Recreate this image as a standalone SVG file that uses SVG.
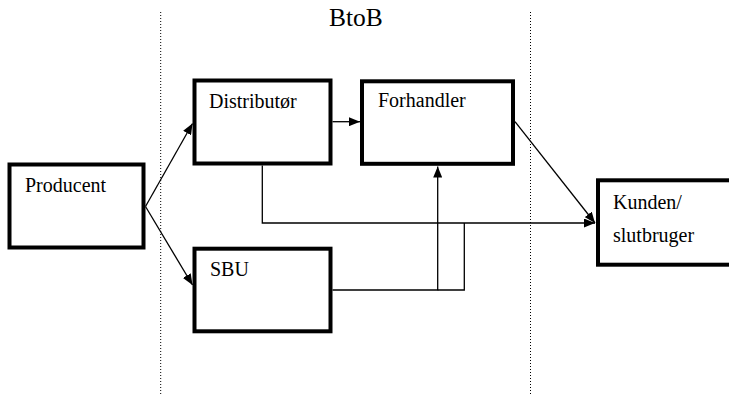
<svg xmlns="http://www.w3.org/2000/svg" width="729" height="394" viewBox="0 0 729 394">
<style>
.box{fill:#fff;stroke:#000;stroke-width:4}
.lbl{font-size:20px;fill:#000}
.title{font-size:25.5px;fill:#000}
.con{fill:none;stroke:#000;stroke-width:1.3}
.dot{fill:none;stroke:#000;stroke-width:1;stroke-dasharray:1 2}
</style>
<defs>
<marker id="arr" viewBox="0 0 11 9" refX="11" refY="4.5" markerWidth="11" markerHeight="9" markerUnits="userSpaceOnUse" orient="auto">
<path d="M0,0 L11,4.5 L0,9 Z" fill="#000"/>
</marker>
</defs>
<rect width="729" height="394" fill="#fff"/>
<g font-family="'Liberation Serif', 'DejaVu Serif', serif">
<g id="zones">
<line class="dot" x1="160.7" y1="12" x2="160.7" y2="394"/>
<line class="dot" x1="530.5" y1="12" x2="530.5" y2="394"/>
<text class="title" x="329" y="26">BtoB</text>
</g>
<g id="producent">
<rect class="box" x="9.5" y="164.5" width="134" height="83"/>
<text class="lbl" x="25" y="191.7">Producent</text>
</g>
<g id="distributor">
<rect class="box" x="194.5" y="80.5" width="136" height="83"/>
<text class="lbl" x="209" y="108.3">Distributør</text>
</g>
<g id="forhandler">
<rect class="box" x="362" y="81.3" width="151" height="82.5"/>
<text class="lbl" x="378" y="107.3">Forhandler</text>
</g>
<g id="sbu">
<rect class="box" x="194.5" y="248.7" width="136" height="82.6"/>
<text class="lbl" x="210" y="275.7">SBU</text>
</g>
<g id="kunden">
<rect class="box" x="598" y="180.3" width="200" height="84.4"/>
<text class="lbl" x="613" y="208.5">Kunden/</text>
<text class="lbl" x="613" y="242">slutbruger</text>
</g>
<g id="connectors">
<line class="con" x1="145.5" y1="206.5" x2="192.5" y2="123.5" marker-end="url(#arr)"/>
<line class="con" x1="145.5" y1="206.5" x2="192.5" y2="285" marker-end="url(#arr)"/>
<line class="con" x1="332.5" y1="121.7" x2="360" y2="121.7" marker-end="url(#arr)"/>
<line class="con" x1="515" y1="121.7" x2="595" y2="223" marker-end="url(#arr)"/>
<path class="con" d="M262.3,165.5 V223 H595" marker-end="url(#arr)"/>
<path class="con" d="M332.5,290 H437.7 V166.5" marker-end="url(#arr)"/>
<path class="con" d="M437.7,290 H464.3 V223"/>
</g>
</g>
</svg>
